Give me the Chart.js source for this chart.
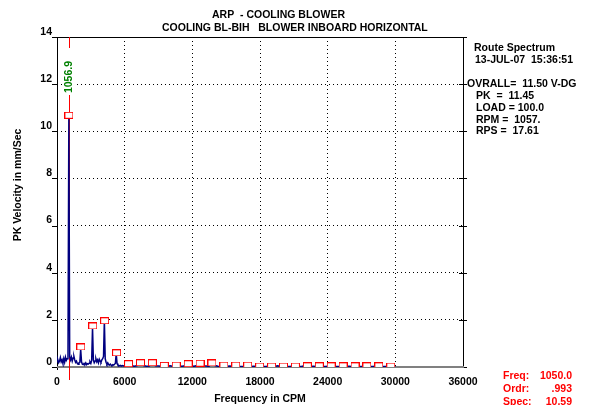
<!DOCTYPE html>
<html>
<head>
<meta charset="utf-8">
<script src="https://cdn.jsdelivr.net/npm/chart.js@4.4.1/dist/chart.umd.min.js"></script>
<style>
  body { margin: 0; background: #fff; }
  #chart { display: block; }
</style>
</head>
<body>
<canvas id="chart" width="594" height="405"></canvas>
<script>
// spectrum, low band (0 - 6000 CPM, 75 CPM lines)
const lowFreq = [
  0, 75, 150, 225, 300, 375, 450, 525, 600, 675, 750, 825, 900, 975, 1050, 1125,
  1200, 1275, 1350, 1425, 1500, 1575, 1650, 1725, 1800, 1875, 1950, 2025, 2100,
  2175, 2250, 2325, 2400, 2475, 2550, 2625, 2700, 2775, 2850, 2925, 3000, 3075,
  3150, 3225, 3300, 3375, 3450, 3525, 3600, 3675, 3750, 3825, 3900, 3975, 4050,
  4125, 4200, 4275, 4350, 4425, 4500, 4575, 4650, 4725, 4800, 4875, 4950, 5025,
  5100, 5175, 5250, 5325, 5400, 5475, 5550, 5625, 5700, 5775, 5850, 5925, 6000,
];
const lowAmp = [
  0.22, 0.30, 0.18, 0.25, 0.40, 0.22, 0.30, 0.15, 0.35, 0.20, 0.42, 0.28, 0.35, 0.50, 10.59, 0.45,
  0.30, 0.42, 0.25, 0.38, 0.45, 0.30, 0.20, 0.25, 0.15, 0.12, 0.18, 0.20, 0.75,
  0.22, 0.12, 0.10, 0.15, 0.12, 0.18, 0.10, 0.14, 0.12, 0.16, 0.22, 0.15, 0.28,
  1.68, 0.30, 0.18, 0.25, 0.35, 0.22, 0.30, 0.18, 0.33, 0.25, 0.20, 0.30, 0.35,
  0.45, 1.97, 0.35, 0.20, 0.12, 0.18, 0.10, 0.08, 0.12, 0.08, 0.06, 0.10, 0.08,
  0.12, 0.15, 0.58, 0.15, 0.08, 0.06, 0.05, 0.07, 0.04, 0.06, 0.05, 0.04, 0.06,
];

// spectrum, high band (6342 - 30000 CPM, quarter-order lines)
const highFreq = [
  6342, 6606, 6870, 7135, 7399, 7663, 7927, 8192, 8456, 8720, 8984, 9249,
  9513, 9777, 10041, 10306, 10570, 10834, 11098, 11363, 11627, 11891, 12155, 12420,
  12684, 12948, 13212, 13477, 13741, 14005, 14269, 14534, 14798, 15062, 15326, 15591,
  15855, 16119, 16383, 16648, 16912, 17176, 17440, 17705, 17969, 18233, 18497, 18762,
  19026, 19290, 19554, 19819, 20083, 20347, 20611, 20876, 21140, 21404, 21668, 21933,
  22197, 22461, 22725, 22990, 23254, 23518, 23782, 24047, 24311, 24575, 24839, 25104,
  25368, 25632, 25896, 26161, 26425, 26689, 26953, 27218, 27482, 27746, 28010, 28275,
  28539, 28803, 29067, 29332, 29596, 30000,
];
const highAmp = [
  0.12, 0.05, 0.03, 0.06, 0.16, 0.06, 0.03, 0.04, 0.17, 0.05, 0.04, 0.03,
  0.06, 0.03, 0.05, 0.02, 0.07, 0.04, 0.03, 0.05, 0.12, 0.04, 0.03, 0.06,
  0.14, 0.05, 0.04, 0.03, 0.15, 0.06, 0.03, 0.02, 0.07, 0.03, 0.04, 0.02,
  0.07, 0.03, 0.02, 0.03, 0.06, 0.02, 0.03, 0.02, 0.04, 0.02, 0.02, 0.03,
  0.04, 0.02, 0.05, 0.02, 0.04, 0.02, 0.02, 0.03, 0.04, 0.02, 0.02, 0.05,
  0.04, 0.02, 0.03, 0.02, 0.04, 0.02, 0.02, 0.03, 0.04, 0.02, 0.02, 0.02,
  0.04, 0.02, 0.03, 0.02, 0.04, 0.02, 0.02, 0.02, 0.04, 0.02, 0.02, 0.03,
  0.03, 0.02, 0.02, 0.02, 0.03, 0.02,
];

// running-speed harmonic markers (1x .. 28x of 1057 CPM)
const harmFreq = [
  1057, 2114, 3171, 4228, 5285, 6342, 7399, 8456, 9513, 10570, 11627, 12684, 13741, 14798,
  15855, 16912, 17969, 19026, 20083, 21140, 22197, 23254, 24311, 25368, 26425, 27482, 28539, 29596,
];
const harmAmp = [
  10.68, 0.85, 1.74, 1.96, 0.60, 0.14, 0.18, 0.18, 0.07, 0.08, 0.14, 0.16, 0.17, 0.08,
  0.08, 0.08, 0.04, 0.04, 0.04, 0.04, 0.05, 0.05, 0.05, 0.05, 0.05, 0.05, 0.05, 0.04,
];

const xTicks = [0, 6000, 12000, 18000, 24000, 30000, 36000];
const yTicks = [0, 2, 4, 6, 8, 10, 12, 14];

const cursorFreq = 1050;
const peakLabel = '1056.9';
const titleLines = ['ARP  - COOLING BLOWER', 'COOLING BL-BIH   BLOWER INBOARD HORIZONTAL'];
const yTitle = 'PK Velocity in mm/Sec';
const infoLines = [
  'Route Spectrum', '13-JUL-07  15:36:51', '',
  'OVRALL=  11.50 V-DG', 'PK  =  11.45', 'LOAD = 100.0', 'RPM =  1057.', 'RPS =  17.61',
];
const cursorInfo = [['Freq:', '1050.0'], ['Ordr:', '.993'], ['Spec:', '10.59']];

const FONT = '"Liberation Sans", Arial, sans-serif';
const BOLD = 'bold 10.5px ' + FONT;

const spectrum = lowFreq.map((f, i) => ({ x: f, y: lowAmp[i] }))
  .concat(highFreq.map((f, i) => ({ x: f, y: highAmp[i] })));
const markers = harmFreq.map((f, i) => ({ x: f, y: harmAmp[i] }));

// small hollow red box used for the harmonic markers
const markerBox = document.createElement('canvas');
markerBox.width = 9;
markerBox.height = 7;
const mctx = markerBox.getContext('2d');
mctx.fillStyle = '#fff';
mctx.fillRect(0, 0, 9, 7);
mctx.strokeStyle = '#ff0000';
mctx.lineWidth = 1;
mctx.strokeRect(0.5, 0.5, 8, 6);

const decorations = {
  id: 'decorations',
  beforeDatasetsDraw(chart) {
    const { ctx, chartArea: a, scales } = chart;
    ctx.save();
    // frame
    ctx.strokeStyle = '#000';
    ctx.lineWidth = 1;
    ctx.beginPath();
    ctx.moveTo(a.left + 0.5, a.bottom + 3);
    ctx.lineTo(a.left + 0.5, a.top + 0.5);
    ctx.lineTo(a.right + 0.5, a.top + 0.5);
    ctx.lineTo(a.right + 0.5, a.bottom);
    ctx.stroke();
    // left and right ticks
    yTicks.forEach((v) => {
      const y = Math.round(scales.y.getPixelForValue(v)) + 0.5;
      ctx.beginPath();
      ctx.moveTo(a.left - 5, y);
      ctx.lineTo(a.left + 1, y);
      ctx.moveTo(a.right - 4, y);
      ctx.lineTo(a.right + 4, y);
      ctx.stroke();
    });
    // bottom axis
    ctx.strokeStyle = '#808080';
    ctx.lineWidth = 2;
    ctx.beginPath();
    ctx.moveTo(a.left, a.bottom);
    ctx.lineTo(a.right + 1, a.bottom);
    ctx.stroke();
    // cursor
    const cx = Math.round(scales.x.getPixelForValue(cursorFreq)) + 0.5;
    ctx.strokeStyle = '#ff0000';
    ctx.lineWidth = 1;
    ctx.beginPath();
    ctx.moveTo(cx, a.top);
    ctx.lineTo(cx, a.bottom + 13);
    ctx.stroke();
    ctx.restore();
  },
  afterDraw(chart) {
    const { ctx, chartArea: a, scales } = chart;
    ctx.save();
    ctx.font = BOLD;
    ctx.fillStyle = '#000';
    ctx.textBaseline = 'middle';
    ctx.textAlign = 'left';
    ctx.fillText(titleLines[0], 212, 15);
    ctx.fillText(titleLines[1], 162, 28);

    const infoY = [48, 60, 72, 84, 96, 108, 120, 131];
    const infoX = [474, 475, 475, 467, 476, 476, 476, 476];
    infoLines.forEach((t, i) => ctx.fillText(t, infoX[i], infoY[i]));

    ctx.fillStyle = '#ff0000';
    cursorInfo.forEach(([k, v], i) => {
      const y = 376 + i * 13;
      ctx.textAlign = 'left';
      ctx.fillText(k, 503, y);
      ctx.textAlign = 'right';
      ctx.fillText(v, 572, y);
    });

    // y axis title
    ctx.save();
    ctx.translate(18, 185);
    ctx.rotate(-Math.PI / 2);
    ctx.fillStyle = '#000';
    ctx.textAlign = 'center';
    ctx.fillText(yTitle, 0, 0);
    ctx.restore();

    // peak label on the cursor
    const cx = Math.round(scales.x.getPixelForValue(cursorFreq)) + 0.5;
    ctx.fillStyle = '#fff';
    ctx.fillRect(cx - 6, a.top + 11, 12, 47);
    ctx.translate(cx, a.top + 40);
    ctx.rotate(-Math.PI / 2);
    ctx.fillStyle = '#008000';
    ctx.textAlign = 'center';
    ctx.fillText(peakLabel, 0, 0);
    ctx.restore();
  },
};

new Chart(document.getElementById('chart'), {
  type: 'line',
  data: {
    datasets: [
      {
        data: markers,
        showLine: false,
        pointStyle: markerBox,
        pointRadius: 4,
        pointHoverRadius: 4,
        order: 0,
      },
      {
        data: spectrum,
        borderColor: '#000080',
        borderWidth: 1.5,
        pointRadius: 0,
        tension: 0,
        fill: false,
        order: 1,
      },
    ],
  },
  options: {
    responsive: false,
    animation: false,
    events: [],
    layout: {
      padding: { top: 37, right: 131, left: 0, bottom: 0 },
    },
    plugins: {
      legend: { display: false },
      tooltip: { enabled: false },
    },
    scales: {
      x: {
        type: 'linear',
        min: 0,
        max: 36000,
        afterBuildTicks: (scale) => {
          scale.ticks = xTicks.map((v) => ({ value: v }));
        },
        afterFit: (scale) => {
          scale.height = 38;
        },
        grid: {
          color: '#000',
          drawTicks: false,
        },
        border: { display: false, dash: [1, 3] },
        ticks: {
          padding: 9,
          color: '#000',
          maxRotation: 0,
          font: { family: FONT, size: 10.5, weight: 'bold' },
          callback: (v) => String(v),
        },
        title: {
          display: true,
          text: 'Frequency in CPM',
          color: '#000',
          padding: 0,
          font: { family: FONT, size: 10.5, weight: 'bold' },
        },
      },
      y: {
        min: 0,
        max: 14,
        afterBuildTicks: (scale) => {
          scale.ticks = yTicks.map((v) => ({ value: v }));
        },
        afterFit: (scale) => {
          scale.width = 57;
        },
        grid: {
          color: '#000',
          drawTicks: false,
        },
        border: { display: false, dash: [1, 3] },
        ticks: {
          padding: 5,
          labelOffset: -5,
          color: '#000',
          font: { family: FONT, size: 10.5, weight: 'bold' },
        },
      },
    },
  },
  plugins: [decorations],
});
</script>
</body>
</html>
